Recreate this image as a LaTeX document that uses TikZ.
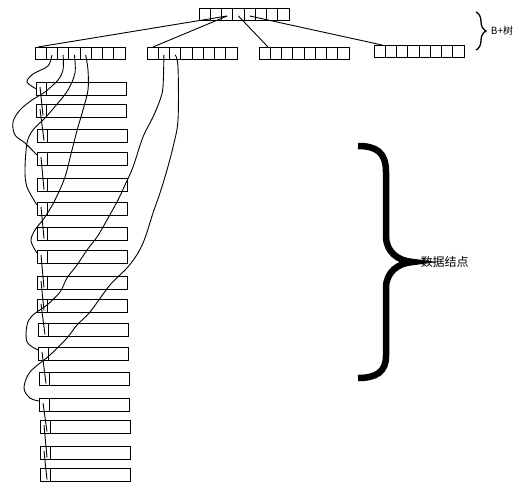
\documentclass[tikz,border=0pt]{standalone}
\usepackage{fontspec}
\newfontfamily\cjk{Noto Sans CJK SC}
\usetikzlibrary{decorations.pathreplacing}

\begin{document}
\begin{tikzpicture}[x=1pt, y=-1pt,
    % Node styles
    key box/.style={
        rectangle, draw, line width=1pt, minimum width=90pt,
        minimum height=12.5pt, inner sep=0pt, anchor=north west,
      },
    data box/.style={
        key box,
      },
    % pointer lines, hand drawn in the original
    ptr/.style={line width=0.9pt},
    ptr curve/.style={ptr, smooth, tension=0.55},
    small brace/.style={
        decorate, decoration={brace, amplitude=10pt}, line width=1.3pt,
      },
  ]
  \useasboundingbox (0,0) rectangle (518,500);

  % --- B+ tree: root and leaves ---
  \node[key box] (root) at (199,8) {};
  \foreach \name/\x/\y in {leaf1/35/47, leaf2/147/47, leaf3/259/47, leaf4/374/45} {
      \node[key box] (\name) at (\x,\y) {};
    }
  % 8 key cells each
  \foreach \name in {root, leaf1, leaf2, leaf3, leaf4} {
      \foreach \k in {1,...,7} {
          \draw[line width=1pt] ([xshift=\k*11.25pt]\name.north west)
            -- ([xshift=\k*11.25pt]\name.south west);
        }
      \foreach \k in {1,...,8} {
          \coordinate (\name-c\k) at ([xshift=\k*11.25pt-5.6pt, yshift=-8pt]\name.north west);
        }
    }
  \draw[ptr] (root-c3) -- ([xshift=3pt]leaf1.north west);
  \draw[ptr] (root-c3) -- ([xshift=6pt]leaf2.north west);
  \draw[ptr] (root-c4) -- ([xshift=9pt]leaf3.north west);
  \draw[ptr] (root-c5) -- ([xshift=8pt]leaf4.north west);

  % --- data nodes ---
  \foreach \i/\x/\y in {1/36/82, 2/36/104, 3/37/129, 4/37/152, 5/37/178, 6/37/202,
      7/37/227, 8/37/250, 9/37/276, 10/37/299, 11/38/323, 12/38/347, 13/39/372,
      14/39/398, 15/40/420, 16/40/446, 17/40/468} {
      \node[data box] (data\i) at (\x,\y) {};
      \draw[line width=1pt] ([xshift=10.5pt]data\i.north west) -- ([xshift=10.5pt]data\i.south west);
      \coordinate (data\i-in) at ([yshift=-3pt]data\i.north west);
    }
  % links from one data node to the next
  \foreach \i/\j in {1/2, 2/3, 4/5, 6/7, 8/9, 9/10, 10/11, 12/13, 14/15, 15/16, 16/17} {
      \draw[ptr] ([xshift=4pt, yshift=-5pt]data\i.north west)
        -- ([xshift=7pt, yshift=2pt]data\j.south west);
    }

  % --- leaf pointers down to the data nodes ---
  \draw[ptr curve] plot coordinates {(leaf1-c2) (48,66) (33,74) (27,82) (data1.west)};
  \draw[ptr curve] plot coordinates {(leaf1-c3) (63,70) (58,80) (45,92) (32,100) (20,110)
      (13,122) (15,135) (25,143) (data4-in)};
  \draw[ptr curve] plot coordinates {(leaf1-c4) (75,73) (68,90) (58,103) (45,118) (33,130)
      (27,143) (25,170) (27,187) (data6-in)};
  \draw[ptr curve] plot coordinates {(leaf1-c5) (88,70) (88,90) (83,110) (78,127) (72,150)
      (65,177) (55,200) (45,217) (35,230) (31,241) (data8-in)};
  \draw[ptr curve] plot coordinates {(leaf2-c2) (163,87) (160,100) (153,117) (143,137)
      (133,167) (125,185) (118,200) (107,220) (97,237) (87,250) (77,265) (67,278)
      (60,292) (47,305) (33,315) (27,325) (27,342) (data12-in)};
  \draw[ptr curve] plot coordinates {(leaf2-c3) (178,67) (178,120) (173,147) (167,170)
      (160,193) (153,213) (145,238) (138,253) (127,268) (110,285) (90,312) (77,325)
      (67,338) (50,355) (30,372) (24,388) (30,398) (data14-in)};

  % --- braces and their labels ---
  \draw[small brace] (476,12) -- (476,50)
    node[midway, anchor=west, xshift=11pt, font=\cjk\fontsize{10}{11}\selectfont] (treelabel) {B+树};
  \draw[line width=6.5pt] (358,146) .. controls (376,146) and (386,152) .. (386,172)
    -- (386,236) .. controls (386,252) and (398,261) .. (413,262)
    .. controls (398,263) and (386,272) .. (386,288)
    -- (386,356) .. controls (386,372) and (376,378) .. (358,378);
  \node[anchor=west, font=\cjk\fontsize{12}{13}\selectfont] (datalabel) at (417,262) {数据结点};

\end{tikzpicture}
\end{document}
